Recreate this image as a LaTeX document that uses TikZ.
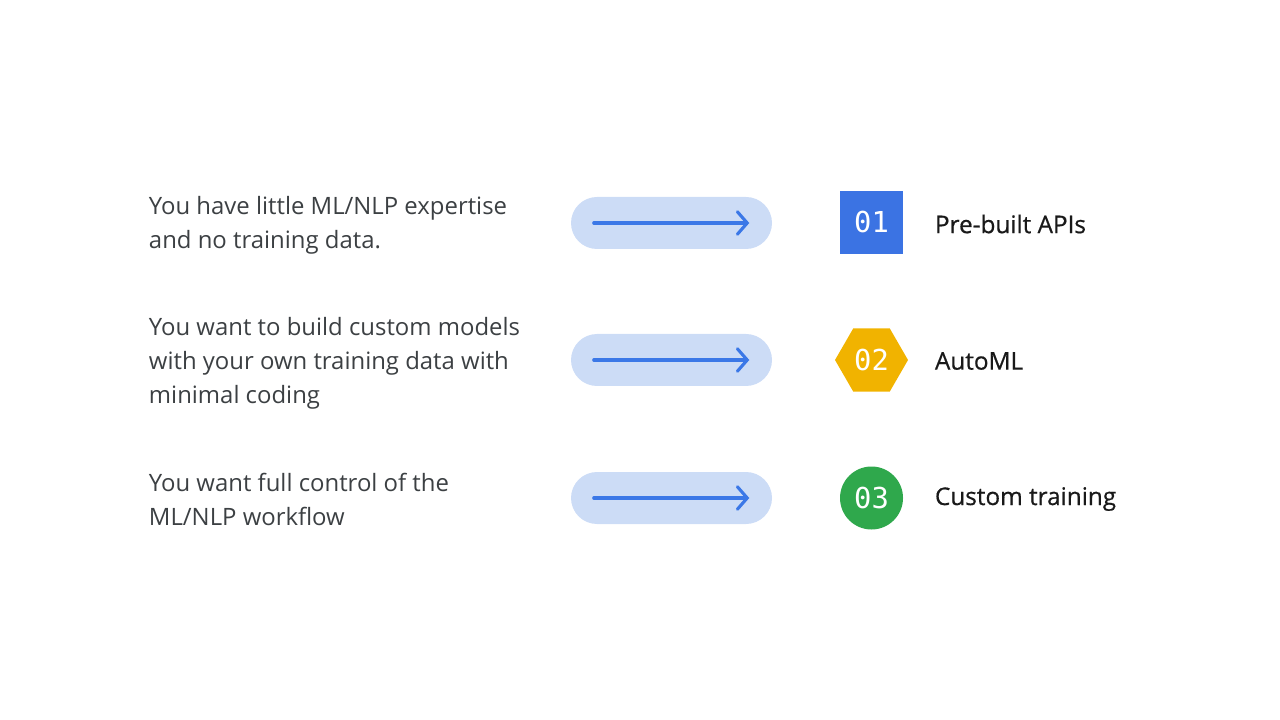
\documentclass[tikz,border=0pt]{standalone}
\usepackage{fontspec}
\setmainfont{Open Sans}
\newfontfamily\numfont{DejaVu Sans Mono}
\usetikzlibrary{arrows.meta,shapes.geometric}

\definecolor{pillblue}{HTML}{CCDCF6}
\definecolor{arrowblue}{HTML}{3B78E7}
\definecolor{gblue}{HTML}{3B73E3}
\definecolor{gyellow}{HTML}{F1B300}
\definecolor{ggreen}{HTML}{2FA84C}
\definecolor{txtgray}{HTML}{3C4043}

\tikzset{
  pill/.style={fill=pillblue, rounded corners=26*0.025cm, minimum width=201*0.025cm,
    minimum height=52*0.025cm, inner sep=0pt},
  flow/.style={draw=arrowblue, line width=2.2pt, line cap=round,
    -{Straight Barb[length=7pt,width=16pt,line cap=round]}},
  question/.style={anchor=west, align=left, text=txtgray, font=\fontsize{17}{24.2}\selectfont},
  badge/.style={text=white, inner sep=0pt, font=\numfont\fontsize{20.5}{20}\selectfont},
  choice/.style={anchor=west, text=black!90, font=\addfontfeatures{FakeBold=0.6}\fontsize{17.3}{20}\selectfont},
}

\begin{document}
\begin{tikzpicture}[x=0.025cm,y=-0.025cm]

\useasboundingbox (0,0) rectangle (1280,720);

% questions
\node [question] (q1) at (144,225) {You have little ML/NLP expertise\\and no training data.};
\node [question] (q2) at (144,363) {You want to build custom models\\with your own training data with\\minimal coding};
\node [question] (q3) at (144,499) {You want full control of the\\ML/NLP workflow};

% pills
\node [pill] (p1) at (671.5,223) {};
\node [pill] (p2) at (671.5,360) {};
\node [pill] (p3) at (671.5,498) {};
\draw [flow] ([xshift=23*0.025cm]p1.west) -- ([xshift=-23*0.025cm]p1.east);
\draw [flow] ([xshift=23*0.025cm]p2.west) -- ([xshift=-23*0.025cm]p2.east);
\draw [flow] ([xshift=23*0.025cm]p3.west) -- ([xshift=-23*0.025cm]p3.east);

% badges
\node [badge, fill=gblue, minimum size=63*0.025cm] (b1) at (871.5,222.5) {01};
\node [badge, fill=gyellow, regular polygon, regular polygon sides=6, minimum size=73*0.025cm] (b2) at (871.5,360) {02};
\node [badge, fill=ggreen, circle, minimum size=63*0.025cm] (b3) at (871.5,498) {03};

% answers
\node [choice] (c1) at (930,224) {Pre-built APIs};
\node [choice] (c2) at (930,361) {AutoML};
\node [choice] (c3) at (930,499) {Custom training};

\end{tikzpicture}
\end{document}
